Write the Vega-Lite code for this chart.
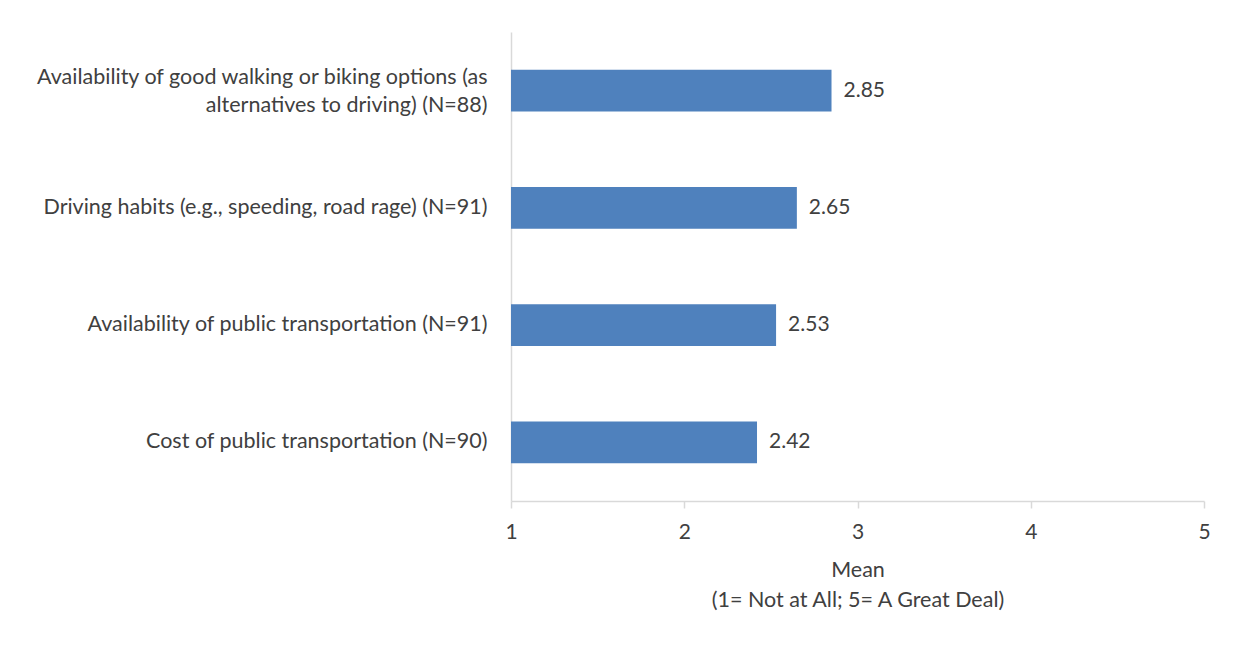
{
  "$schema": "https://vega.github.io/schema/vega-lite/v6.json",
  "width": 693,
  "height": 469,
  "autosize": {"type": "none"},
  "padding": {"left": 511, "top": 32, "right": 36, "bottom": 171},
  "background": "white",
  "config": {"view": {"stroke": null}, "font": "Lato"},
  "data": {"values": [
    {"item": "Availability of good walking or biking options (as|alternatives to driving) (N=88)", "mean": 2.85},
    {"item": "Driving habits (e.g., speeding, road rage) (N=91)", "mean": 2.65},
    {"item": "Availability of public transportation (N=91)", "mean": 2.53},
    {"item": "Cost of public transportation (N=90)", "mean": 2.42}
  ]},
  "encoding": {
    "y": {"field": "item", "type": "nominal", "sort": null,
      "scale": {"paddingInner": 0.646, "paddingOuter": 0.323},
      "axis": {"title": null, "ticks": false, "domainColor": "#d9d9d9", "domainWidth": 1.5,
        "labelExpr": "split(datum.label, '|')", "labelFontSize": 21.5, "labelColor": "#404040",
        "labelOffset": {"condition": {"test": "indexof(datum.value, '|') >= 0", "value": -13}, "value": 0},
        "labelPadding": 24, "labelLineHeight": 28, "labelLimit": 600, "labelFont": "Lato"}}
  },
  "layer": [
    {"mark": {"type": "bar", "color": "#4f81bd"},
     "encoding": {
       "x": {"field": "mean", "type": "quantitative",
         "scale": {"domain": [1, 5], "zero": false, "nice": false},
         "axis": {"values": [1, 2, 3, 4, 5], "format": "d", "labelFlush": false, "grid": false, "domainColor": "#d9d9d9", "domainWidth": 1.5,
           "tickColor": "#d9d9d9", "tickWidth": 1.5, "tickSize": 7, "labelFontSize": 21, "labelColor": "#404040",
           "labelPadding": 13, "labelFont": "Lato",
           "title": ["Mean", "(1= Not at All; 5= A Great Deal)"], "titleFontSize": 21.5, "titleFontWeight": "normal",
           "titleColor": "#404040", "titlePadding": 17, "titleLineHeight": 30, "titleFont": "Lato"}},
       "x2": {"datum": 1}
     }},
    {"mark": {"type": "text", "align": "left", "dx": 12, "fontSize": 21, "color": "#404040", "font": "Lato"},
     "encoding": {
       "x": {"field": "mean", "type": "quantitative"},
       "text": {"field": "mean", "type": "quantitative", "format": ".2f"}
     }}
  ]
}
